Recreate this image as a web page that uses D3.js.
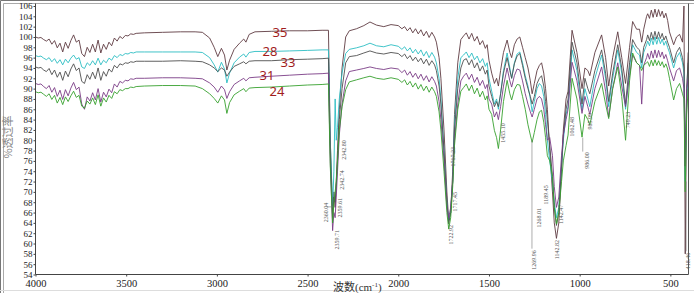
<!DOCTYPE html>
<html>
<head>
<meta charset="utf-8">
<script src="https://cdn.jsdelivr.net/npm/d3@7"></script>
<style>
  html, body { margin: 0; padding: 0; background: #fff; }
  svg { display: block; }
</style>
</head>
<body>
<svg id="chart" width="694" height="293"></svg>
<script>
// wavenumber grid (cm-1), shared by every spectrum
const wavenumbers = [
  4000, 3985, 3970, 3955, 3940, 3925, 3910, 3895, 3880, 3865, 3850, 3835, 3820, 3805, 3790, 3775, 3760, 3745, 3730, 3715,
  3700, 3685, 3670, 3655, 3640, 3625, 3610, 3595, 3580, 3565, 3550, 3535, 3520, 3505, 3490, 3475, 3460, 3445,
  3400, 3300, 3200, 3120,
  3080, 3040, 3015, 2995, 2975, 2958, 2945, 2930, 2905, 2875, 2852, 2840, 2822, 2790,
  2700, 2600, 2500, 2420,
  2385, 2375, 2362, 2355, 2348, 2342, 2335, 2325, 2310, 2290, 2270,
  2230, 2190, 2156, 2120, 2080, 2040, 2000, 1980, 1965, 1950, 1935, 1920, 1905, 1890, 1875, 1860, 1845, 1830, 1815, 1800, 1790, 1775,
  1765, 1748, 1732, 1722, 1711, 1700, 1690, 1672, 1655,
  1640, 1625, 1610, 1595, 1580, 1565, 1550, 1535, 1520, 1510, 1500,
  1485, 1470, 1458, 1448, 1436, 1420, 1400, 1385, 1375, 1360, 1345, 1330, 1315, 1300,
  1285, 1272, 1262, 1250, 1235, 1222, 1210, 1198, 1188, 1178, 1165, 1150, 1140, 1128, 1115, 1100, 1090,
  1075, 1064, 1052, 1042, 1015, 987, 971, 955, 944, 916, 879, 857, 840, 818, 790, 768, 747, 725, 708, 686, 670, 658, 647, 631,
  625, 615, 605, 595, 585, 575, 565, 555, 545, 535, 525, 515,
  505, 482, 466, 449, 433, 425, 418, 410, 402
]

// %T, one array per sample
const s35 = [
  100.0, 99.8, 99.9, 99.5, 99.2, 99.6, 98.6, 99.3, 97.9, 98.8, 97.1, 99.0, 97.8, 99.3, 100.4, 99.0, 99.4, 96.8, 96.2, 98.0,
  97.0, 98.6, 97.1, 99.4, 96.9, 98.6, 97.6, 99.0, 98.3, 99.8, 99.2, 100.1, 99.7, 100.3, 100.2, 100.6, 100.5, 100.7,
  100.8, 100.9, 101.0, 101.0,
  100.9, 99.8, 98.0, 96.2, 97.8, 96.5, 93.6, 95.5, 97.6, 98.8, 99.6, 99.0, 100.5, 101.0,
  101.1, 101.2, 101.2, 101.3,
  101.3, 80.0, 66.0, 70.0, 67.0, 72.0, 78.0, 86.0, 94.0, 100.0, 101.2,
  101.6, 102.2, 102.9, 102.3, 102.0, 102.4, 102.2, 101.6, 102.0, 101.2, 101.8, 100.8, 101.6, 100.6, 101.4, 100.2, 101.1, 99.9, 100.9, 100.0, 99.0, 96.0,
  92.0, 82.0, 70.0, 64.5, 66.0, 74.0, 85.0, 95.0, 99.5,
  100.2, 100.8, 99.6, 100.7, 99.2, 100.1, 98.5, 99.3, 97.8, 98.5, 95.5,
  93.0, 91.0, 92.0, 90.5, 93.5, 97.0, 99.4, 97.0, 96.0, 98.5, 99.6, 100.0, 98.0, 96.0,
  94.0, 91.5, 89.0, 91.0, 93.5, 94.5, 95.0, 93.0, 90.0, 86.0, 78.0, 70.0, 64.0, 61.0, 64.0, 74.0, 82.0,
  88.0, 89.5, 96.0, 101.3, 97.0, 90.0, 94.0, 93.5, 92.5, 97.0, 100.4, 96.0, 90.5, 96.0, 101.0, 96.0, 91.0, 98.0, 103.0, 101.5, 101.5, 99.0, 101.5, 104.0,
  104.5, 103.6, 105.2, 103.8, 105.4, 103.9, 105.3, 104.0, 105.0, 103.7, 104.6, 103.2,
  101.0, 98.5, 100.0, 100.5, 99.0, 106.0, 58.0, 88.0, 97.0
]
const s28 = [
  96.4, 96.2, 96.3, 95.9, 95.6, 96.0, 95.2, 95.8, 94.9, 95.6, 94.6, 95.7, 95.0, 95.9, 96.5, 95.7, 96.0, 94.2, 93.9, 95.0,
  94.5, 95.4, 94.6, 95.9, 94.6, 95.5, 95.0, 95.9, 95.5, 96.4, 96.0, 96.6, 96.4, 96.8, 96.7, 97.0, 96.9, 97.1,
  97.1, 97.1, 97.1, 97.1,
  97.0, 96.0, 94.6, 93.2, 95.1, 93.8, 91.1, 93.0, 95.0, 96.1, 96.7, 96.1, 97.0, 97.2,
  97.2, 97.3, 97.4, 97.5,
  97.5, 80.0, 67.0, 74.0, 88.0, 80.0, 82.5, 88.0, 93.0, 96.8, 97.6,
  97.9, 98.3, 98.8, 98.3, 98.1, 98.5, 98.2, 97.6, 98.1, 97.3, 97.9, 96.9, 97.6, 96.7, 97.5, 96.3, 97.2, 96.0, 97.0, 96.1, 95.0, 92.0,
  88.0, 78.0, 68.0, 64.5, 66.0, 72.0, 83.0, 92.0, 96.0,
  96.5, 97.1, 96.0, 96.9, 95.6, 96.3, 95.0, 95.8, 94.3, 95.0, 92.0,
  89.5, 87.0, 88.0, 86.0, 89.0, 93.5, 96.9, 94.0, 92.0, 95.0, 96.7, 97.1, 95.0, 92.5,
  90.5, 88.0, 85.5, 87.5, 90.0, 91.0, 90.5, 88.5, 85.0, 80.0, 76.0, 72.0, 68.0, 65.0, 67.0, 75.0, 80.0,
  85.0, 86.5, 92.0, 97.5, 93.5, 85.8, 90.0, 88.0, 86.5, 92.0, 96.5, 92.0, 86.5, 92.0, 97.5, 93.0, 86.0, 94.0, 98.5, 97.0, 96.5, 94.0, 97.0, 98.5,
  99.2, 98.3, 99.8, 98.5, 100.0, 98.6, 99.9, 98.7, 99.6, 98.4, 99.2, 98.0,
  97.0, 94.0, 96.0, 97.0, 95.0, 93.0, 72.0, 88.0, 93.0
]
const s33 = [
  94.2, 94.0, 94.1, 93.6, 93.3, 93.9, 92.7, 93.6, 92.2, 93.2, 91.6, 93.4, 92.3, 93.8, 94.8, 93.5, 94.0, 91.4, 91.0, 92.7,
  91.8, 93.2, 91.9, 94.0, 91.6, 93.3, 92.4, 93.8, 93.2, 94.5, 94.0, 94.8, 94.6, 95.0, 94.9, 95.2, 95.1, 95.3,
  95.3, 95.3, 95.4, 95.3,
  95.2, 94.6, 94.0, 93.3, 94.0, 93.6, 92.4, 93.2, 94.3, 94.8, 95.2, 94.8, 95.3, 95.4,
  95.4, 95.6, 95.7, 95.8,
  95.9, 78.0, 65.0, 69.0, 68.0, 71.0, 76.0, 84.0, 90.0, 95.0, 96.2,
  96.4, 96.9, 97.3, 96.9, 96.7, 97.0, 96.8, 96.2, 96.7, 95.8, 96.4, 95.4, 96.1, 95.2, 95.9, 94.8, 95.7, 94.5, 95.4, 94.6, 93.5, 90.5,
  87.0, 78.0, 68.0, 63.8, 66.0, 72.0, 82.0, 90.0, 94.0,
  95.5, 95.8, 94.6, 95.6, 94.0, 95.0, 93.4, 94.4, 92.8, 93.6, 90.5,
  88.5, 86.5, 87.5, 86.5, 89.0, 93.0, 96.0, 93.5, 92.0, 94.8, 96.3, 96.8, 94.5, 92.0,
  90.0, 88.5, 87.0, 88.5, 91.0, 92.0, 92.5, 90.5, 87.5, 84.0, 79.0, 73.0, 67.0, 63.5, 66.0, 75.0, 81.0,
  86.0, 88.0, 94.0, 99.0, 95.0, 87.0, 92.0, 90.0, 89.0, 93.5, 97.5, 93.0, 87.5, 93.0, 98.5, 94.0, 87.0, 95.0, 99.5, 98.0, 97.5, 95.0, 98.0, 99.5,
  100.4, 99.3, 100.9, 99.5, 101.1, 99.6, 101.0, 99.7, 100.7, 99.4, 100.2, 99.0,
  98.0, 95.0, 97.0, 98.0, 96.0, 94.0, 75.0, 90.0, 95.0
]
const s31 = [
  91.0, 90.8, 90.9, 90.4, 90.0, 90.6, 89.3, 90.2, 88.5, 89.7, 87.9, 89.8, 88.6, 90.1, 91.2, 89.8, 90.3, 87.0, 86.0, 88.4,
  87.6, 89.2, 87.8, 90.0, 87.4, 89.3, 88.4, 89.9, 89.2, 90.9, 90.3, 91.4, 91.1, 91.6, 91.5, 91.9, 91.8, 92.0,
  92.0, 92.1, 92.1, 92.0,
  91.9, 91.1, 90.3, 89.3, 90.5, 89.8, 88.1, 89.4, 90.8, 91.5, 92.0, 91.5, 92.1, 92.2,
  92.4, 92.6, 92.8, 92.9,
  93.0, 76.0, 62.5, 66.0, 65.0, 69.0, 74.0, 81.0, 87.0, 91.5, 93.3,
  93.6, 93.9, 94.2, 93.9, 93.7, 94.0, 93.8, 93.1, 93.6, 92.6, 93.3, 92.2, 93.0, 91.9, 92.8, 91.6, 92.5, 91.3, 92.3, 91.4, 90.5, 87.5,
  84.0, 76.0, 67.0, 65.0, 67.0, 72.0, 80.0, 87.0, 91.5,
  92.4, 93.0, 91.8, 92.8, 91.2, 92.2, 90.6, 91.6, 90.0, 90.8, 88.0,
  87.0, 84.5, 85.5, 84.0, 86.5, 90.5, 94.0, 91.5, 90.3, 92.5, 93.8, 93.6, 91.5, 89.0,
  87.0, 85.5, 84.5, 86.0, 88.0, 88.5, 88.0, 86.0, 83.0, 80.0, 80.5, 77.0, 71.0, 67.0, 69.0, 77.0, 81.0,
  84.0, 86.0, 91.0, 95.1, 91.5, 85.2, 88.5, 86.5, 85.0, 90.0, 94.2, 89.5, 84.5, 90.0, 95.0, 90.5, 86.5, 92.5, 96.5, 95.0, 94.5, 87.0, 94.5, 96.0,
  96.8, 95.7, 97.3, 95.9, 97.5, 96.0, 97.4, 96.1, 97.1, 95.8, 96.6, 95.4,
  94.0, 91.5, 93.5, 94.0, 92.0, 90.0, 75.0, 90.0, 92.0
]
const s24 = [
  89.4, 89.2, 89.3, 88.9, 88.5, 89.0, 87.9, 88.7, 87.2, 88.3, 86.9, 88.4, 87.5, 88.6, 89.5, 88.3, 88.7, 86.6, 86.2, 87.6,
  87.0, 88.2, 86.9, 88.8, 86.6, 88.2, 87.4, 88.7, 88.1, 89.4, 89.0, 89.8, 89.6, 90.0, 90.0, 90.3, 90.2, 90.4,
  90.5, 90.6, 90.6, 90.5,
  90.0, 89.0, 88.1, 87.2, 88.6, 87.8, 85.2, 87.3, 88.8, 89.5, 90.0, 89.4, 90.1, 90.2,
  90.3, 90.5, 90.7, 90.8,
  90.9, 75.0, 64.0, 68.0, 70.0, 72.0, 76.0, 82.0, 86.5, 89.8, 91.3,
  91.7, 92.1, 92.4, 92.0, 91.8, 92.1, 91.8, 91.2, 91.7, 90.7, 91.4, 90.3, 91.1, 89.9, 90.8, 89.6, 90.5, 89.3, 90.3, 89.4, 88.5, 85.5,
  82.0, 74.0, 66.0, 62.8, 65.0, 71.0, 79.0, 86.0, 89.5,
  90.2, 90.9, 89.6, 90.7, 89.0, 90.1, 88.4, 89.5, 87.8, 88.6, 86.0,
  85.0, 81.9, 80.5, 78.4, 82.0, 87.5, 91.6, 89.0, 87.8, 89.8, 90.8, 90.7, 88.5, 86.0,
  83.0, 81.0, 79.6, 81.5, 84.0, 85.5, 85.8, 83.5, 80.5, 77.0, 76.0, 73.0, 67.0, 63.8, 66.0, 72.0, 76.0,
  79.0, 81.0, 87.0, 92.0, 88.0, 80.6, 85.0, 84.0, 83.0, 87.5, 91.0, 87.0, 84.2, 90.0, 94.2, 88.5, 80.0, 91.5, 96.9, 95.0, 94.5, 93.5, 94.5, 95.0,
  95.2, 94.3, 95.5, 94.4, 95.6, 94.5, 95.4, 94.4, 95.2, 94.1, 94.8, 93.8,
  92.0, 87.8, 90.0, 91.0, 89.0, 88.0, 70.0, 85.0, 90.0
]

const seriesNames = ['35', '28', '33', '31', '24']
const seriesValues = [s35, s28, s33, s31, s24]
const seriesColors = ['#5f3b42', '#2bbdc3', '#4e4e4e', '#7b3c86', '#37a02e']
// where the sample numbers sit, in data units [wavenumber, %T]
const nameAnchors = [[2652, 101.0], [2707, 97.3], [2608, 95.2], [2724, 92.6], [2669, 89.5]]

const xTicks = [4000, 3500, 3000, 2500, 2000, 1500, 1000, 500]
const yTicks = d3.range(54, 107, 2)

// peak labels: text, wavenumber, %T at the top end of the rotated text
const peakLabels = [
  ['2360.04', 2398, 67.9], ['2359.71', 2338, 62.6], ['2359.61', 2324, 68.8], ['2342.74', 2310, 74.2], ['2342.80', 2299, 80.0],
  ['1717.23', 1698, 78.7], ['1717.45', 1687, 70.0], ['1722.92', 1709, 63.6], ['1455.10', 1423, 83.3],
  ['1269.96', 1252, 58.7], ['1268.01', 1227, 66.9], ['1189.45', 1186, 71.3], ['1142.82', 1125, 60.7], ['1142.47', 1103, 67.5],
  ['1062.48', 1042, 84.5], ['986.00', 958, 77.7], ['985.99', 942, 85.3], ['749.23', 733, 85.5], ['418.46', 405, 58.2]
]
// leader lines: [wn1, %T1, wn2, %T2]
const leaders = [
  [2395, 67.1, 2361, 67.1], [1263, 80.0, 1263, 59.0], [983, 80.5, 983, 77.8], [413, 72.0, 413, 58.5]
]

const svg = d3.select('#chart')
const W = 694, H = 293
const mLeft = 35.5, mRight = 688.5, mTop = 6, mBottom = 274.5

const x = d3.scaleLinear().domain([4000, 400]).range([mLeft, mRight])
const y = d3.scaleLinear().domain([54, 106]).range([mBottom, mTop])

// outer frame
svg.append('path').attr('d', `M0.5,${H} V0.5 H${W}`).attr('fill', 'none').attr('stroke', '#777')
svg.append('path').attr('d', `M3.5,${H} V3.5 H${W}`).attr('fill', 'none').attr('stroke', '#aaa')
svg.append('line').attr('x1', 0).attr('x2', W).attr('y1', 290.5).attr('y2', 290.5).attr('stroke', '#ddd')

svg.append('clipPath').attr('id', 'plot').append('rect')
  .attr('x', mLeft).attr('y', 3.5).attr('width', mRight - mLeft).attr('height', mBottom - 3.5)

// spectra
const line = d3.line().x((d, i) => x(wavenumbers[i])).y(d => y(d))
const g = svg.append('g').attr('clip-path', 'url(#plot)')
seriesValues.forEach((vals, i) => {
  g.append('path')
    .attr('d', line(vals))
    .attr('fill', 'none')
    .attr('stroke', seriesColors[i])
    .attr('stroke-width', 0.9)
    .attr('stroke-linejoin', 'round')
})

// peak annotations
leaders.forEach(([w1, v1, w2, v2]) => {
  svg.append('line')
    .attr('x1', x(w1)).attr('y1', y(v1)).attr('x2', x(w2)).attr('y2', y(v2))
    .attr('stroke', '#777').attr('stroke-width', 0.6)
})
peakLabels.forEach(([t, w, v]) => {
  svg.append('text')
    .attr('transform', `translate(${x(w)},${y(v)}) rotate(-90)`)
    .attr('text-anchor', 'end')
    .attr('dy', '0.35em')
    .attr('font-family', 'Liberation Serif, serif')
    .attr('font-size', 6)
    .attr('fill', '#555')
    .text(t)
})

// sample numbers
seriesNames.forEach((n, i) => {
  svg.append('text')
    .attr('x', x(nameAnchors[i][0]))
    .attr('y', y(nameAnchors[i][1]))
    .attr('text-anchor', 'middle')
    .attr('dominant-baseline', 'central')
    .attr('font-family', 'Noto Sans, sans-serif')
    .attr('font-size', 13)
    .attr('fill', '#a11d1d')
    .text(n)
})

// axes
const yAxis = svg.append('g')
  .attr('transform', `translate(${mLeft},0)`)
  .call(d3.axisLeft(y).tickValues(yTicks).tickSize(2).tickSizeOuter(0).tickPadding(1))
const xAxis = svg.append('g')
  .attr('transform', `translate(0,${mBottom})`)
  .call(d3.axisBottom(x).tickValues(xTicks).tickSize(2).tickSizeOuter(0).tickPadding(3).tickFormat(d3.format('d')))
;[yAxis, xAxis].forEach(a => {
  a.selectAll('text')
    .attr('font-family', 'Liberation Serif, serif')
    .attr('fill', '#222')
  a.selectAll('line, path').attr('stroke', '#444')
})
yAxis.selectAll('text').attr('font-size', 9)
xAxis.selectAll('text').attr('font-size', 10.5)
yAxis.select('.domain').attr('d', `M0,${mBottom} V3.5`)
xAxis.select('.domain').attr('d', `M${mLeft},0 H${mRight}`)

// right border of the plot
svg.append('line')
  .attr('x1', mRight).attr('x2', mRight).attr('y1', 3.5).attr('y2', mBottom)
  .attr('stroke', '#555')

// axis titles
svg.append('text')
  .attr('transform', `translate(12,137) rotate(-90)`)
  .attr('text-anchor', 'middle')
  .attr('font-family', 'Noto Sans CJK SC, sans-serif')
  .attr('font-size', 11)
  .attr('fill', '#888')
  .text('%透过率')

const xt = svg.append('text')
  .attr('x', 333)
  .attr('y', 291)
  .attr('font-family', 'Liberation Serif, Noto Sans CJK SC, serif')
  .attr('font-size', 11)
  .attr('fill', '#333')
xt.append('tspan').text('波数(cm')
xt.append('tspan').attr('font-size', 7).attr('dy', -4).text('-1')
xt.append('tspan').attr('dy', 4).text(')')
</script>
</body>
</html>
